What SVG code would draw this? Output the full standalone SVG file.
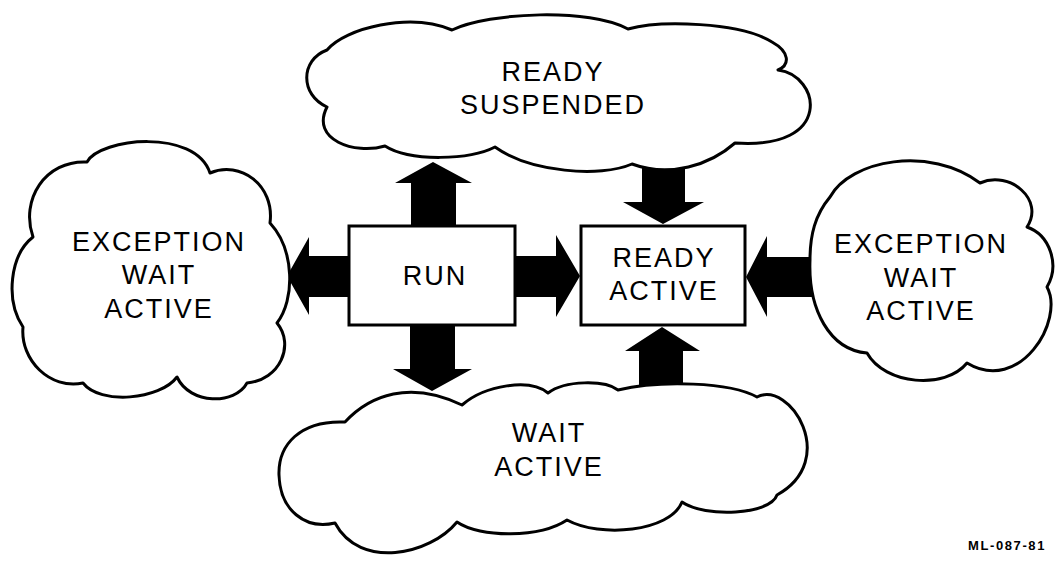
<svg xmlns="http://www.w3.org/2000/svg" width="1060" height="561" viewBox="0 0 1060 561">
<style>
.cloud{fill:#fff;stroke:#000;stroke-width:3;stroke-linejoin:round}
.box{fill:#fff;stroke:#000;stroke-width:3}
.arr{fill:#000;stroke:none}
.t{font-family:"Liberation Sans",Arial,Helvetica,sans-serif;font-size:27px;letter-spacing:2px;text-anchor:middle;fill:#000}
.code{font-family:"Liberation Sans",Arial,Helvetica,sans-serif;font-size:13px;font-weight:bold;letter-spacing:1.6px;fill:#000}
</style>
<rect width="1060" height="561" fill="#fff"/>
<g id="connectors">
<polygon class="arr" points="411,227 411,183 395,183 433,162 472,183 456,183 456,227"/>
<polygon class="arr" points="642,158 685,158 685,202 704,202 663,224 623,202 642,202"/>
<polygon class="arr" points="513,256 556,256 556,235 580,276 556,317 556,297 513,297"/>
<polygon class="arr" points="410,324 455,324 455,369 472,369 432,391 393,369 410,369"/>
<polygon class="arr" points="639,398 639,351 625,351 662,327 700,351 683,351 683,398"/>
<polygon class="arr" points="351,256 309,256 309,237 287,276 309,315 309,297 351,297"/>
<polygon class="arr" points="814,257 767,257 767,236 746,277 767,317 767,297 814,297"/>
</g>
<g id="ready-suspended">
<path class="cloud" d="M327,50 C345,28 410,12 452,30 C490,12 590,8 628,29 C660,20 740,22 772,42 C790,52 790,65 778,70 C820,75 835,150 735,143 C710,165 670,178 632,164 C600,178 530,172 495,147 C470,160 410,162 385,146 C355,155 310,140 327,107 C300,95 300,60 327,50 Z"/>
<text class="t" x="553" y="81">READY</text>
<text class="t" x="553" y="114">SUSPENDED</text>
</g>
<g id="exception-wait-active-left">
<path class="cloud" d="M87,162 C100,138 195,128 210,173 C240,160 275,185 270,223 C295,250 295,300 277,323 C295,345 280,380 247,383 C235,405 190,405 177,377 C160,400 100,405 83,383 C50,390 20,360 23,327 C5,300 10,255 33,237 C20,200 45,160 87,162 Z"/>
<text class="t" x="159" y="251">EXCEPTION</text>
<text class="t" x="159" y="284">WAIT</text>
<text class="t" x="159" y="318">ACTIVE</text>
</g>
<g id="exception-wait-active-right">
<path class="cloud" d="M830,197 C850,160 930,145 980,183 C1010,170 1045,200 1027,227 C1050,235 1060,265 1047,287 C1065,320 1020,395 967,363 C945,390 885,385 867,353 C830,350 808,310 810,260 C810,235 815,215 830,197 Z"/>
<text class="t" x="921" y="253">EXCEPTION</text>
<text class="t" x="921" y="287">WAIT</text>
<text class="t" x="921" y="320">ACTIVE</text>
</g>
<g id="wait-active">
<path class="cloud" d="M345,422 C370,395 410,380 462,405 C485,385 530,378 548,393 C565,380 605,380 618,390 C660,380 730,382 757,397 C790,380 840,460 777,495 C770,515 705,518 682,502 C670,532 600,538 567,520 C540,538 480,538 457,522 C430,555 360,570 335,523 C305,530 280,510 279,475 C278,445 300,420 345,422 Z"/>
<text class="t" x="549" y="442">WAIT</text>
<text class="t" x="549" y="476">ACTIVE</text>
</g>
<g id="run">
<rect class="box" x="349" y="226" width="166" height="99"/>
<text class="t" x="435" y="285">RUN</text>
</g>
<g id="ready-active">
<rect class="box" x="581" y="226" width="164" height="99"/>
<text class="t" x="664" y="267">READY</text>
<text class="t" x="664" y="300">ACTIVE</text>
</g>
<text class="code" x="968" y="550">ML-087-81</text>
</svg>
